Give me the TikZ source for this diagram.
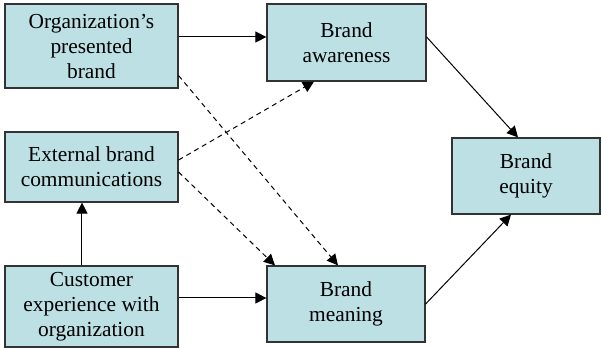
\documentclass[tikz,border=0pt]{standalone}
\usepackage{fontspec}
\setmainfont{Liberation Serif}
\usetikzlibrary{arrows.meta, positioning}
\definecolor{boxfill}{RGB}{188,224,228}

\begin{document}
\begin{tikzpicture}[
        x=0.5pt, y=-0.5pt,
        font=\fontsize{10.7}{12.5}\selectfont,
        block/.style={
            draw=black!80,
            line width=0.6pt,
            fill=boxfill,
            align=center,
            inner sep=0pt,
            minimum width=86.5pt,
            minimum height=40pt
        },
        arrow/.style={
            -{Triangle[length=5.5pt, width=5.5pt]},
            line width=0.5pt
        },
        dasharrow/.style={
            arrow,
            dash pattern=on 2.5pt off 2pt
        }
    ]

    \useasboundingbox (0,0) rectangle (602,348);

    \node[block, minimum height=42pt] (presented) at (91.5,46) {Organization’s\\presented\\brand};
    \node[block, minimum width=79.5pt, minimum height=38.5pt] (awareness) at (346.5,42.5) {Brand\\awareness};
    \node[block, minimum height=35pt] (external) at (91.5,167) {External brand\\communications};
    \node[block, minimum height=40.5pt] (customer) at (91.5,306.5) {Customer\\experience with\\organization};
    \node[block, minimum width=79pt, minimum height=38pt] (meaning) at (346,304) {Brand\\meaning};
    \node[block, minimum width=74pt, minimum height=38pt] (equity) at (526,176) {Brand\\equity};

    \draw[arrow] ([yshift=4.5pt]presented.east) -- ([yshift=4.5pt]presented.east -| awareness.west);
    \draw[arrow] ([yshift=2.75pt]awareness.east) -- ([xshift=-4pt]equity.north);
    \draw[arrow] (meaning.east) -- ([xshift=-7.5pt]equity.south);
    \draw[arrow] ([xshift=-4.75pt]customer.north) -- ([xshift=-4.75pt]external.south);
    \draw[arrow] ([yshift=4.25pt]customer.east) -- ([yshift=4.25pt]customer.east -| meaning.west);

    \draw[dasharrow] ([yshift=6.5pt]presented.south east) -- ([xshift=-4pt]meaning.north);
    \draw[dasharrow] ([yshift=3.5pt]external.east) -- ([xshift=-16.25pt]awareness.south);
    \draw[dasharrow] ([yshift=-2.5pt]external.east) -- ([xshift=-35.5pt]meaning.north);

\end{tikzpicture}
\end{document}
